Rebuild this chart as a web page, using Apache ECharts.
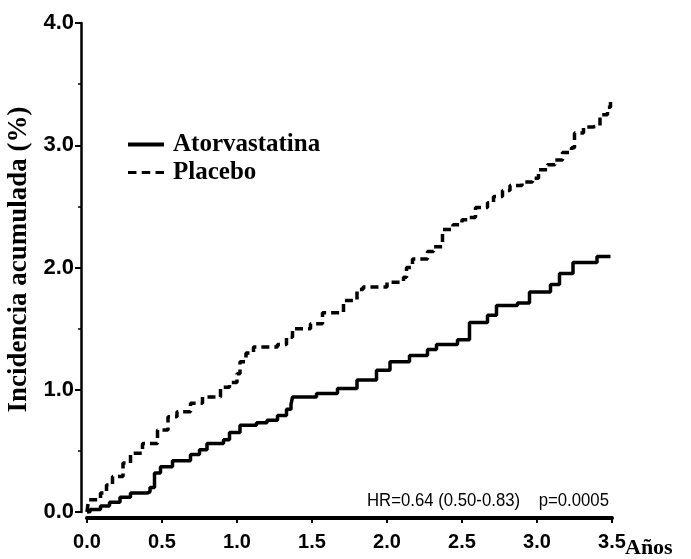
<!DOCTYPE html>
<html>
<head>
<meta charset="utf-8">
<script src="https://cdn.jsdelivr.net/npm/echarts@6/dist/echarts.min.js"></script>
<style>
html,body{margin:0;padding:0;background:#fff;}
#chart{width:691px;height:559px;}
</style>
</head>
<body>
<div id="chart"></div>
<script>
// ---- data ----
const seriesNames = ['Atorvastatina', 'Placebo'];
const atorTimes = [0, 0.02, 0.09, 0.15, 0.22, 0.29, 0.40, 0.42, 0.45, 0.49, 0.57, 0.69, 0.75, 0.80, 0.91, 0.95, 1.02, 1.13, 1.20, 1.27, 1.33, 1.36, 1.37, 1.53, 1.67, 1.80, 1.93, 2.02, 2.15, 2.27, 2.33, 2.47, 2.55, 2.67, 2.73, 2.87, 2.95, 3.09, 3.15, 3.24, 3.40, 3.49];
const atorValues = [0, 0.02, 0.05, 0.08, 0.12, 0.155, 0.165, 0.20, 0.32, 0.37, 0.42, 0.47, 0.51, 0.56, 0.59, 0.65, 0.71, 0.73, 0.75, 0.79, 0.84, 0.88, 0.94, 0.97, 1.01, 1.08, 1.16, 1.23, 1.28, 1.33, 1.37, 1.41, 1.55, 1.61, 1.69, 1.71, 1.80, 1.86, 1.95, 2.04, 2.09, 2.09];
const placTimes = [0, 0.01, 0.05, 0.09, 0.13, 0.17, 0.24, 0.29, 0.37, 0.47, 0.54, 0.60, 0.69, 0.77, 0.89, 0.95, 1.00, 1.02, 1.06, 1.11, 1.27, 1.33, 1.37, 1.49, 1.57, 1.71, 1.80, 1.84, 1.93, 2.00, 2.11, 2.13, 2.17, 2.27, 2.31, 2.37, 2.44, 2.50, 2.55, 2.59, 2.67, 2.71, 2.77, 2.82, 2.90, 2.97, 3.01, 3.07, 3.12, 3.17, 3.23, 3.25, 3.31, 3.37, 3.42, 3.47, 3.49];
const placValues = [0, 0.10, 0.10, 0.155, 0.22, 0.29, 0.40, 0.48, 0.56, 0.67, 0.78, 0.82, 0.89, 0.94, 1.02, 1.06, 1.13, 1.23, 1.30, 1.35, 1.37, 1.43, 1.50, 1.54, 1.63, 1.73, 1.82, 1.84, 1.84, 1.88, 1.92, 2.00, 2.07, 2.13, 2.17, 2.31, 2.35, 2.39, 2.41, 2.49, 2.53, 2.58, 2.63, 2.67, 2.70, 2.73, 2.80, 2.84, 2.88, 2.94, 2.98, 3.10, 3.15, 3.16, 3.25, 3.31, 3.36];
const xTicks = [0, 0.5, 1.0, 1.5, 2.0, 2.5, 3.0, 3.5];
const yTicks = [0, 1.0, 2.0, 3.0, 4.0];
const yTitle = 'Incidencia acumulada (%)';
const xTitle = 'Años';
const statsText = 'HR=0.64 (0.50-0.83)    p=0.0005';

// ---- chart ----
const zip = (a, b) => a.map((t, i) => [t, b[i]]);
const chart = echarts.init(document.getElementById('chart'), null, {renderer: 'canvas'});
const serif = '"Liberation Serif", "Times New Roman", serif';
const sans = '"Liberation Sans", Arial, sans-serif';

chart.setOption({
  animation: false,
  backgroundColor: '#ffffff',
  grid: {left: 87, right: 79, top: 23, bottom: 47, containLabel: false, outerBoundsMode: 'none'},
  legend: {
    orient: 'vertical',
    left: 123,
    top: 127,
    itemGap: 3,
    itemWidth: 36,
    itemHeight: 4,
    textStyle: {fontFamily: serif, fontWeight: 'bold', fontSize: 25, color: '#000', padding: [0, 0, 0, 4]},
    data: [
      {name: seriesNames[0], icon: 'rect', itemStyle: {color: '#000'}},
      {name: seriesNames[1], icon: 'path://M0,0h8v3h-8z M13,0h8v3h-8z M26,0h8v3h-8z', itemStyle: {color: '#000'}}
    ]
  },
  xAxis: {
    type: 'value',
    min: xTicks[0], max: xTicks[xTicks.length - 1], interval: 0.5,
    offset: 6,
    axisLine: {show: true, onZero: false, lineStyle: {color: '#000', width: 4}},
    axisTick: {show: true, length: 5, lineStyle: {color: '#000', width: 2}},
    axisLabel: {
      margin: 14, color: '#000', fontFamily: sans, fontWeight: 'bold', fontSize: 20,
      formatter: v => v.toFixed(1)
    },
    splitLine: {show: false}
  },
  yAxis: {
    type: 'value',
    min: yTicks[0], max: yTicks[yTicks.length - 1], interval: 1,
    offset: 6,
    name: yTitle,
    nameLocation: 'middle',
    nameGap: 48,
    nameRotate: 90,
    nameTextStyle: {fontFamily: serif, fontWeight: 'bold', fontSize: 27, color: '#000', padding: [0, 0, 0, 16]},
    axisLine: {show: true, onZero: false, lineStyle: {color: '#000', width: 2.5}},
    axisTick: {show: true, length: 6, lineStyle: {color: '#000', width: 2}},
    minorTick: {show: true, splitNumber: 2, length: 3, lineStyle: {color: '#000', width: 1.5}},
    axisLabel: {
      margin: 7, color: '#000', fontFamily: sans, fontWeight: 'bold', fontSize: 22,
      formatter: v => v.toFixed(1)
    },
    splitLine: {show: false}
  },
  graphic: [
    {
      type: 'text',
      left: 367,
      top: 492,
      scaleX: 0.93,
      style: {text: statsText, font: '18px ' + sans, fill: '#000'}
    },
    {
      type: 'text',
      left: 625,
      top: 537,
      style: {text: xTitle, font: 'bold 22px ' + serif, fill: '#000'}
    }
  ],
  series: [
    {
      name: seriesNames[0], type: 'line', step: 'end', symbol: 'none', showSymbol: false,
      data: zip(atorTimes, atorValues),
      lineStyle: {color: '#000', width: 3.5, type: 'solid'},
      itemStyle: {color: '#000'}
    },
    {
      name: seriesNames[1], type: 'line', step: 'end', symbol: 'none', showSymbol: false,
      data: zip(placTimes, placValues),
      lineStyle: {color: '#000', width: 3.5, type: [8, 5]},
      itemStyle: {color: '#000'}
    }
  ]
});
</script>
</body>
</html>
